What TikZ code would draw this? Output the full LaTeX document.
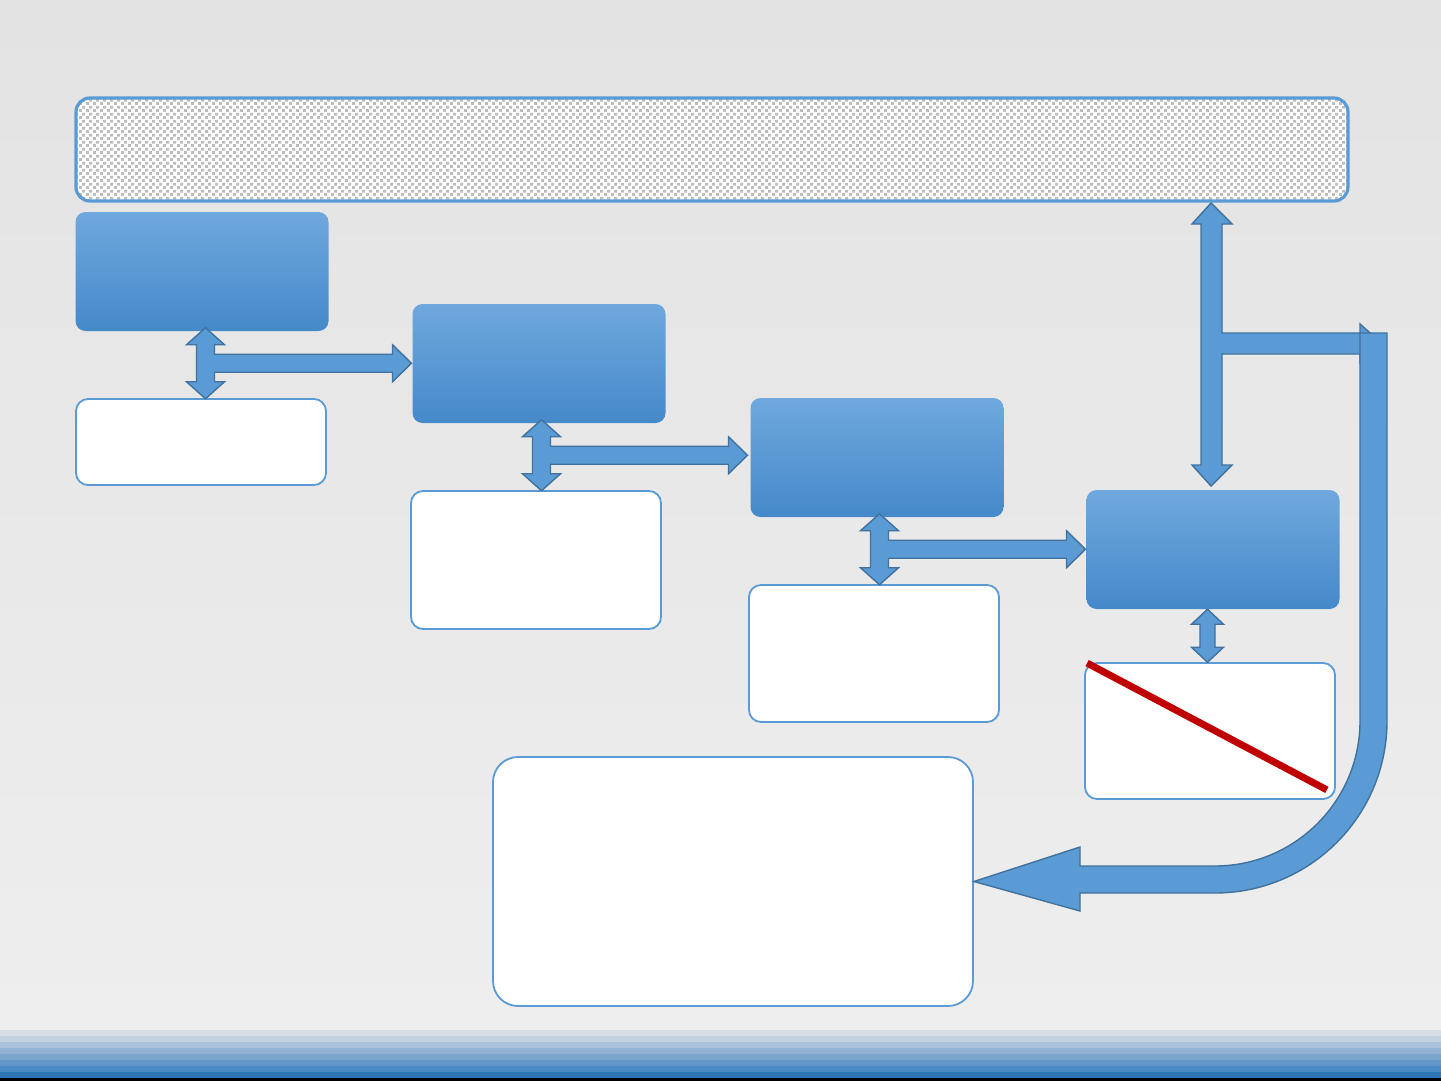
\documentclass[tikz,border=0pt]{standalone}
\usetikzlibrary{patterns,calc}
\definecolor{slideblue}{HTML}{5B9BD5}
\definecolor{slideedge}{HTML}{41719C}
\definecolor{boxtop}{HTML}{6FA8DD}
\definecolor{boxbot}{HTML}{4589CA}
\definecolor{backtop}{HTML}{E3E3E3}
\definecolor{backbot}{HTML}{EEEEEE}
\definecolor{cutred}{HTML}{C00000}
\definecolor{checkgray}{HTML}{BDBDBD}
\def\stripesep{6}
\pgfdeclarepatternformonly{checkers}{\pgfpointorigin}{\pgfqpoint{3.6pt}{3.6pt}}{\pgfqpoint{3.6pt}{3.6pt}}
{
	\pgfpathrectangle{\pgfpointorigin}{\pgfqpoint{1.6pt}{1.6pt}}
	\pgfpathrectangle{\pgfqpoint{1.8pt}{1.8pt}}{\pgfqpoint{1.6pt}{1.6pt}}
	\pgfusepath{fill}
}

\begin{document}
\begin{tikzpicture}[x=0.5pt,y=-0.5pt,
	teearrow/.pic={
		\filldraw[block arrow] (0,-35.5) -- (19,-18.5) -- (9,-18.5) -- (9,-9) -- (187,-9) -- (187,-18.5)
		-- (206,0) -- (187,18.5) -- (187,9) -- (9,9) -- (9,18.5) -- (19,18.5) -- (0,35.5)
		-- (-19,18.5) -- (-9,18.5) -- (-9,-18.5) -- (-19,-18.5) -- cycle;},
	updown/.pic={
		\filldraw[block arrow] (0,-26.5) -- (16,-11.5) -- (7.5,-11.5) -- (7.5,11.5) -- (16,11.5) -- (0,26.5)
		-- (-16,11.5) -- (-7.5,11.5) -- (-7.5,-11.5) -- (-16,-11.5) -- cycle;}]
	\tikzstyle{block arrow}=[fill=slideblue,draw=slideedge,line width=0.7pt,line join=miter]
	\tikzstyle{stage}=[rectangle,rounded corners=5pt,top color=boxtop,bottom color=boxbot,
		minimum width=126.5pt,minimum height=59.5pt,inner sep=0pt]
	\tikzstyle{note}=[rectangle,rounded corners=6pt,fill=white,draw=slideblue,line width=0.9pt,
		minimum width=125pt,inner sep=0pt]
	\useasboundingbox (0,0) rectangle (1441,1081);

	% Background and footer stripes
	\shade[top color=backtop,bottom color=backbot] (0,0) rectangle (1441,1030);
	\foreach \col [count=\i from 0] in {D7DFE6,C2D2E0,ABC3DA,93B3D4,7CA5CE,6396C8,4A89C2,2F76B6}
	{
		\definecolor{stripe}{HTML}{\col}
		\fill[stripe] (0,{1030+\i*\stripesep}) rectangle (1441,{1030+(\i+1)*\stripesep});
	}
	\fill[black] (0,1078) rectangle (1441,1081);

	% Top banner
	\node[rectangle,rounded corners=7pt,draw=slideblue,line width=1.6pt,
		preaction={fill=white},pattern=checkers,pattern color=checkgray,
		minimum width=636pt,minimum height=51.5pt] (banner) at (712,149.5) {};

	% Draw the stages
	\node[stage] (b1) at (202,271.5) {};
	\node[stage] (b2) at (539,363.5) {};
	\node[stage] (b3) at (877,457.5) {};
	\node[stage] (b4) at (1213,549.5) {};

	% Draw the notes below each stage
	\node[note,minimum height=43pt] (w1) at (201,442) {};
	\node[note,minimum height=69pt] (w2) at (536,560) {};
	\node[note,minimum height=68.5pt] (w3) at (874,653.5) {};
	\node[note,minimum height=68pt] (w4) at (1210,731) {};
	\node[note,rounded corners=12.5pt,minimum width=240pt,minimum height=124.5pt] (w5) at (733,881.5) {};

	% Red strike through the last note
	\draw[cutred,line width=3.5pt] ($(w4.north west)+(3,1)$) -- ($(w4.south east)+(-9,-10)$);

	% Connect every stage with its note and the next stage
	\foreach \this/\below in {b1/w1,b2/w2,b3/w3}
	\pic at ($(\this.south)!0.5!(\below.north)+(4,-1.5)$) {teearrow};
	\pic at ($(b4.south)!0.5!(w4.north)+(-4,0)$) {updown};

	% Banner link with branch to the feedback arrow
	\filldraw[block arrow] (1211,203) -- (1232,224) -- (1222,224) -- (1222,333) -- (1360,333) -- (1360,324)
		-- (1382,343.5) -- (1360,363) -- (1360,354) -- (1222,354) -- (1222,465) -- (1232,465) -- (1211,486)
		-- (1192,465) -- (1201,465) -- (1201,224) -- (1192,224) -- cycle;

	% Feedback arrow into the big note
	\filldraw[block arrow] (1360,333) -- (1387,333) -- (1387,721) .. controls (1387,816) and (1310,893) .. (1215,893)
		-- (1080,893) -- (1080,911) -- (w5.east) -- (1080,847) -- (1080,866) -- (1215,866)
		.. controls (1295,866) and (1360,801) .. (1360,721) -- cycle;

\end{tikzpicture}
\end{document}
